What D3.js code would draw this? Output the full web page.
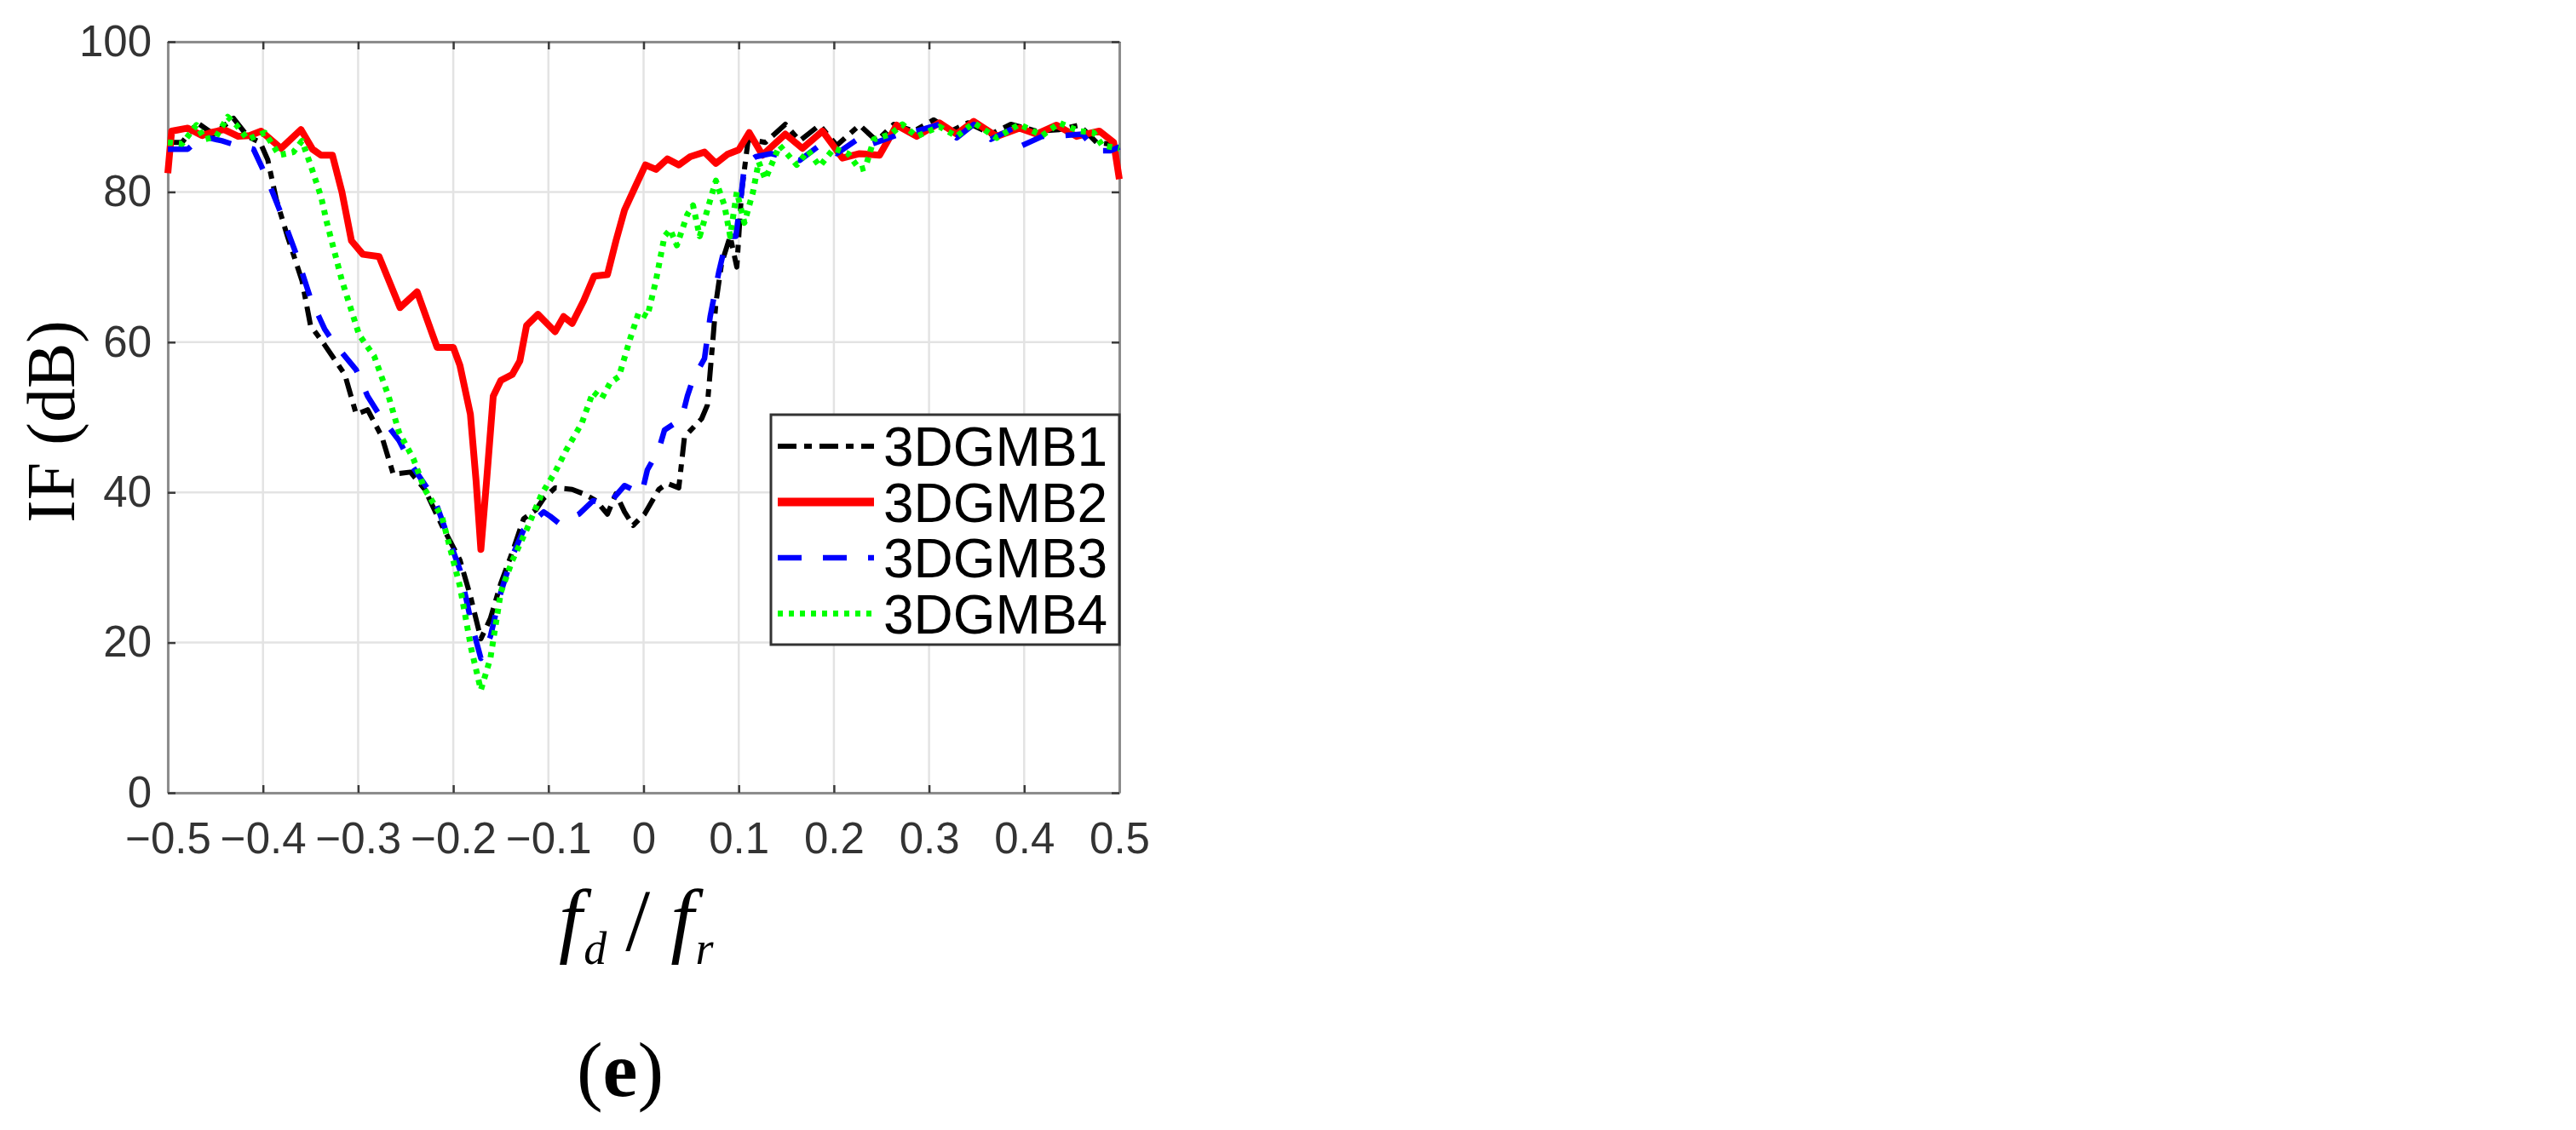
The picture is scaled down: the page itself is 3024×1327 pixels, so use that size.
<!DOCTYPE html>
<html>
<head>
<meta charset="utf-8">
<script src="https://cdn.jsdelivr.net/npm/d3@7"></script>
<style>
  html, body { margin: 0; padding: 0; background: #fff; }
  svg { display: block; }
</style>
</head>
<body>
<svg id="chart"></svg>
<script>
// series names and line looks
const names = ['3DGMB1', '3DGMB2', '3DGMB3', '3DGMB4'];
const colors = ['#000000', '#ff0000', '#0000ff', '#00ff00'];
const xTicks = [-0.5, -0.4, -0.3, -0.2, -0.1, 0, 0.1, 0.2, 0.3, 0.4, 0.5];
const yTicks = [0, 20, 40, 60, 80, 100];

// fd/fr and IF (dB), one pair of arrays per series
const fr1 = [-0.5, -0.485, -0.469, -0.452, -0.431, -0.416, -0.403, -0.395, -0.386, -0.374,
  -0.359, -0.35, -0.335, -0.314, -0.302, -0.29, -0.275, -0.263, -0.245, -0.23,
  -0.212, -0.193, -0.182, -0.171, -0.161, -0.15, -0.138, -0.126, -0.113, -0.105,
  -0.093, -0.075, -0.063, -0.05, -0.038, -0.029, -0.02, -0.011, 0.001, 0.016,
  0.025, 0.037, 0.043, 0.061, 0.067, 0.073, 0.076, 0.082, 0.091, 0.098,
  0.103, 0.11, 0.128, 0.149, 0.164, 0.185, 0.203, 0.227, 0.245, 0.263,
  0.284, 0.305, 0.323, 0.341, 0.365, 0.386, 0.413, 0.437, 0.458, 0.476, 0.5];
const if1 = [86.6, 86.6, 89.2, 87.7, 89.8, 87.4, 86.6, 84.3, 79.0, 74.0,
  68.2, 62.2, 59.6, 55.7, 50.4, 51.0, 47.4, 42.4, 42.7, 40.4,
  35.6, 31.0, 26.2, 20.5, 23.2, 27.9, 32.0, 36.5, 37.7, 39.2,
  40.6, 40.4, 39.8, 38.9, 37.1, 39.8, 37.4, 35.6, 37.1, 40.4,
  41.2, 40.6, 47.4, 49.8, 51.6, 60.5, 65.2, 70.5, 74.1, 70.0,
  80.0, 87.0, 86.6, 89.0, 86.8, 88.9, 86.2, 88.9, 86.8, 89.0,
  88.1, 89.6, 88.1, 89.2, 87.7, 89.0, 88.1, 88.3, 88.9, 86.6, 86.2];

const fr2 = [-0.5, -0.496, -0.479, -0.464, -0.455, -0.441, -0.426, -0.414, -0.402, -0.381,
  -0.36, -0.348, -0.339, -0.327, -0.317, -0.307, -0.295, -0.278, -0.256, -0.238,
  -0.217, -0.2, -0.193, -0.182, -0.176, -0.171, -0.165, -0.158, -0.15, -0.138,
  -0.13, -0.123, -0.111, -0.093, -0.084, -0.075, -0.063, -0.052, -0.038, -0.029,
  -0.02, -0.008, 0.002, 0.013, 0.025, 0.037, 0.049, 0.064, 0.076, 0.088,
  0.1, 0.111, 0.125, 0.149, 0.167, 0.188, 0.209, 0.227, 0.248, 0.266,
  0.287, 0.311, 0.329, 0.347, 0.371, 0.395, 0.413, 0.434, 0.455, 0.479, 0.494, 0.5];
const if2 = [82.5, 88.1, 88.5, 87.5, 87.9, 88.3, 87.4, 87.5, 88.1, 85.8,
  88.3, 85.7, 84.9, 84.9, 80.0, 73.5, 71.7, 71.4, 64.6, 66.7,
  59.3, 59.3, 56.9, 50.4, 41.5, 32.4, 41.5, 52.8, 54.9, 55.7,
  57.5, 62.2, 63.7, 61.4, 63.4, 62.5, 65.5, 68.8, 69.0, 73.5,
  77.6, 80.9, 83.6, 83.0, 84.4, 83.6, 84.7, 85.3, 83.8, 85.0,
  85.6, 87.9, 84.9, 87.7, 85.8, 88.1, 84.5, 85.1, 84.9, 88.9,
  87.4, 89.2, 87.7, 89.4, 87.4, 88.5, 87.7, 88.9, 87.4, 88.1, 86.6, 81.7];

const fr3 = [-0.5, -0.479, -0.464, -0.443, -0.428, -0.41, -0.4, -0.392, -0.38, -0.365,
  -0.35, -0.335, -0.326, -0.302, -0.29, -0.278, -0.257, -0.242, -0.22, -0.193,
  -0.181, -0.171, -0.161, -0.15, -0.138, -0.126, -0.113, -0.105, -0.098, -0.089,
  -0.068, -0.053, -0.038, -0.02, -0.002, 0.004, 0.016, 0.022, 0.04, 0.046,
  0.052, 0.064, 0.07, 0.079, 0.088, 0.097, 0.103, 0.106, 0.118, 0.134,
  0.164, 0.185, 0.203, 0.227, 0.236, 0.269, 0.287, 0.311, 0.329, 0.347,
  0.365, 0.389, 0.398, 0.419, 0.44, 0.461, 0.476, 0.491, 0.5];
const if3 = [85.7, 85.7, 87.4, 86.8, 86.2, 85.7, 83.0, 80.6, 76.8, 71.7,
  65.8, 61.7, 60.0, 56.3, 52.8, 50.4, 46.9, 43.3, 39.2, 29.7,
  22.6, 17.9, 20.8, 26.7, 31.5, 35.0, 36.5, 37.4, 36.8, 35.9,
  37.1, 38.9, 38.3, 40.9, 39.8, 43.0, 45.7, 48.3, 49.8, 52.8,
  55.1, 57.8, 63.4, 69.3, 74.1, 74.1, 80.0, 83.6, 84.7, 85.1,
  84.2, 86.2, 85.1, 87.2, 86.2, 87.7, 88.1, 89.0, 87.2, 89.0,
  87.0, 88.5, 86.2, 87.4, 87.5, 87.7, 85.5, 85.5, 86.0];

const fr4 = [-0.5, -0.485, -0.47, -0.461, -0.449, -0.437, -0.428, -0.416, -0.398, -0.383,
  -0.368, -0.359, -0.35, -0.339, -0.333, -0.317, -0.299, -0.283, -0.268, -0.257,
  -0.242, -0.23, -0.212, -0.193, -0.181, -0.171, -0.161, -0.15, -0.138, -0.123,
  -0.107, -0.093, -0.081, -0.065, -0.053, -0.044, -0.035, -0.026, -0.014, -0.005,
  0.004, 0.013, 0.022, 0.028, 0.035, 0.046, 0.052, 0.059, 0.067, 0.076,
  0.085, 0.091, 0.098, 0.106, 0.115, 0.121, 0.128, 0.143, 0.161, 0.173,
  0.185, 0.2, 0.215, 0.227, 0.233, 0.242, 0.26, 0.272, 0.287, 0.311,
  0.329, 0.347, 0.371, 0.395, 0.419, 0.437, 0.458, 0.473, 0.482, 0.5];
const if4 = [86.6, 86.4, 88.9, 87.0, 87.4, 90.0, 88.9, 87.0, 87.9, 84.9,
  85.3, 86.8, 83.6, 79.4, 76.0, 68.2, 61.0, 58.1, 52.8, 48.0,
  44.5, 40.4, 36.8, 27.5, 19.1, 13.7, 17.9, 26.7, 30.9, 35.0,
  39.8, 42.7, 45.7, 49.2, 53.4, 52.5, 54.6, 55.4, 60.5, 64.0,
  63.4, 68.2, 74.1, 75.0, 72.9, 77.0, 78.2, 74.1, 77.6, 81.5,
  78.2, 74.1, 80.0, 75.9, 80.0, 84.0, 81.7, 86.2, 83.6, 85.5,
  83.4, 85.8, 85.1, 83.0, 83.2, 87.0, 87.7, 89.0, 87.4, 88.7,
  87.4, 89.2, 87.2, 89.0, 87.5, 89.2, 88.1, 87.9, 86.2, 85.8];

const frs = [fr1, fr2, fr3, fr4];
const ifs = [if1, if2, if3, if4];

// page and plot box
let width = 3024;
let height = 1327;
let padL = 197, padR = 1314, padT = 49, padB = 931;

// line styles per series
const widths = [6, 8, 6.5, 7];
const dashes = ['22,9,9,9', null, '28,25', '6,7'];

let svg = d3.select('#chart').attr('width', width).attr('height', height);
svg.append('rect').attr('width', width).attr('height', height).attr('fill', '#fff');

let xScale = d3.scaleLinear().domain([-0.5, 0.5]).range([padL, padR]);
let yScale = d3.scaleLinear().domain([0, 100]).range([padB, padT]);

let fmt = (d) => (Math.abs(d) < 1e-9 ? '0' : d3.format('.1f')(d));

// grid lines
let grid = svg.append('g');
grid.selectAll('.gx').data(xTicks).enter().append('line')
  .attr('x1', (d) => xScale(d)).attr('x2', (d) => xScale(d))
  .attr('y1', padT).attr('y2', padB)
  .attr('stroke', '#e3e3e3').attr('stroke-width', 2.5);
grid.selectAll('.gy').data(yTicks).enter().append('line')
  .attr('x1', padL).attr('x2', padR)
  .attr('y1', (d) => yScale(d)).attr('y2', (d) => yScale(d))
  .attr('stroke', '#e3e3e3').attr('stroke-width', 2.5);

// axes with inward ticks on all four sides
let xAxis = d3.axisBottom(xScale).tickValues(xTicks).tickFormat(fmt).tickSizeInner(-9).tickSizeOuter(0).tickPadding(35);
let xAxisTop = d3.axisTop(xScale).tickValues(xTicks).tickFormat('').tickSizeInner(-9).tickSizeOuter(0);
let yAxis = d3.axisLeft(yScale).tickValues(yTicks).tickSizeInner(-9).tickSizeOuter(0).tickPadding(19);
let yAxisRight = d3.axisRight(yScale).tickValues(yTicks).tickFormat('').tickSizeInner(-9).tickSizeOuter(0);

function styleAxis(g) {
  g.select('.domain').attr('stroke', '#8c8c8c').attr('stroke-width', 3);
  g.selectAll('.tick line').attr('stroke', '#3a3a3a').attr('stroke-width', 2.5);
  g.selectAll('.tick text').attr('fill', '#333').style('font-family', 'Arial, "Liberation Sans", sans-serif').style('font-size', '51px');
}

svg.append('g').attr('transform', 'translate(0,' + padB + ')').call(xAxis).call(styleAxis);
svg.append('g').attr('transform', 'translate(0,' + padT + ')').call(xAxisTop).call(styleAxis);
svg.append('g').attr('transform', 'translate(' + padL + ',0)').call(yAxis).call(styleAxis);
svg.append('g').attr('transform', 'translate(' + padR + ',0)').call(yAxisRight).call(styleAxis);

// the curves
let line = d3.line().x((d) => xScale(d[0])).y((d) => yScale(d[1]));
let plot = svg.append('g');
names.forEach((n, i) => {
  let pts = frs[i].map((x, j) => [x, ifs[i][j]]);
  plot.append('path')
    .datum(pts)
    .attr('d', line)
    .attr('fill', 'none')
    .attr('stroke', colors[i])
    .attr('stroke-width', widths[i])
    .attr('stroke-linejoin', 'round')
    .attr('stroke-dasharray', dashes[i]);
});

// legend
let lg = svg.append('g');
lg.append('rect').attr('x', 905).attr('y', 487).attr('width', 409).attr('height', 270)
  .attr('fill', '#fff').attr('stroke', '#333').attr('stroke-width', 3);
let rows = lg.selectAll('.row').data(names).enter().append('g')
  .attr('transform', (d, i) => 'translate(0,' + (524 + i * 65.5) + ')');
rows.append('line').attr('x1', 913).attr('x2', 1026).attr('y1', 0).attr('y2', 0)
  .attr('stroke', (d, i) => colors[i])
  .attr('stroke-width', (d, i) => widths[i] + (i === 1 ? 2 : 0))
  .attr('stroke-dasharray', (d, i) => dashes[i]);
rows.append('text').attr('x', 1037).attr('y', 23)
  .style('font-family', 'Arial, "Liberation Sans", sans-serif').style('font-size', '64px')
  .attr('fill', '#000').text((d) => d);

// axis titles
svg.append('text').attr('transform', 'translate(87,495) rotate(-90)')
  .attr('text-anchor', 'middle')
  .style('font-family', '"Times New Roman", "Liberation Serif", serif').style('font-size', '80px')
  .text('IF (dB)');

let xl = svg.append('text')
  .style('font-family', '"Liberation Serif", "Times New Roman", serif').style('font-style', 'italic')
  .attr('x', 656).attr('y', 1112);
xl.append('tspan').style('font-size', '98px').text('f');
xl.append('tspan').style('font-size', '54px').attr('dy', 20).attr('dx', 2).text('d');
xl.append('tspan').style('font-size', '104px').style('font-style', 'normal').attr('dy', -16).attr('dx', 22).text('/');
xl.append('tspan').style('font-size', '98px').attr('dy', -4).attr('dx', 24).text('f');
xl.append('tspan').style('font-size', '54px').attr('dy', 20).attr('dx', 2).text('r');

let cap = svg.append('text').attr('x', 728).attr('y', 1287).attr('text-anchor', 'middle')
  .style('font-family', '"Times New Roman", "Liberation Serif", serif').style('font-size', '92px');
cap.append('tspan').text('(');
cap.append('tspan').style('font-weight', 'bold').text('e');
cap.append('tspan').text(')');
</script>
</body>
</html>
